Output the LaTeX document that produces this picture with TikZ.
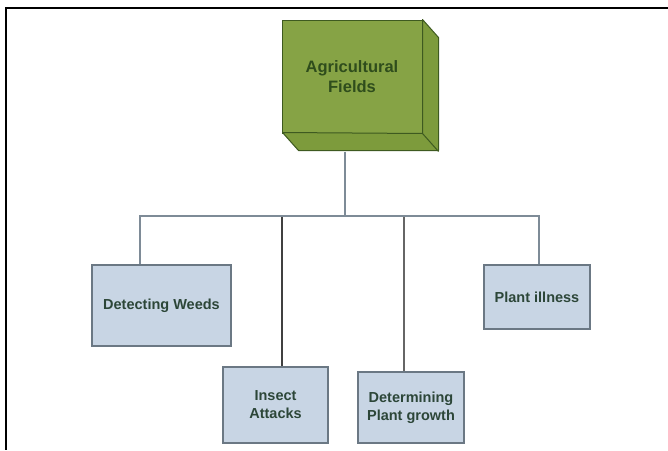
\documentclass[tikz,border=0pt]{standalone}
\usepackage{fontspec}
\setmainfont{Liberation Sans}
\usetikzlibrary{calc}
\definecolor{fieldgreen}{HTML}{86A345}
\definecolor{fieldside}{HTML}{7D9B3C}
\definecolor{fieldline}{HTML}{3E5A20}
\definecolor{titlegreen}{HTML}{2F4D1C}
\definecolor{leafblue}{HTML}{C8D5E4}
\definecolor{leafline}{HTML}{6B7884}
\definecolor{leaftext}{HTML}{2C4638}
\definecolor{wiregray}{HTML}{7E8B97}

\begin{document}
\begin{tikzpicture}[x=1pt,y=-1pt]
	\tikzstyle{leaf}=[draw=leafline, fill=leafblue, line width=1.2pt, inner sep=0pt, align=center, text=leaftext, font=\fontsize{14.5}{18}\selectfont\bfseries]
	\tikzstyle{wire}=[draw=wiregray, line width=1.3pt]
	\newcommand\Ybus{216}
	\newcommand\Depth{16}

	\useasboundingbox (0,0) rectangle (668,450);

	% Frame
	\draw [line width=2pt] (668,8) -| (6,450);

	% Root
	\node [draw=fieldline, fill=fieldgreen, line width=1pt, minimum width=140, minimum height=113, inner sep=0pt, align=center, text=titlegreen, font=\fontsize{16.5}{20}\selectfont\bfseries] at (352,76.5) (fields) {Agricultural\\Fields};
	\filldraw [draw=fieldline, fill=fieldside, line width=1pt, line join=round] (fields.north east) -- ++(\Depth,18) -- ++(0,113) -- ++(-140,0) -- ++(-\Depth,-18) -- (fields.south east) -- cycle;
	\draw [fieldline, line width=1pt] (fields.south east) -- ++(\Depth,18);

	% Leaves
	\node [leaf, minimum width=139, minimum height=81] at (161.5,305.5) (weeds) {Detecting Weeds};
	\node [leaf, minimum width=105, minimum height=76] at (275.5,405) (insect) {Insect\\Attacks};
	\node [leaf, minimum width=106, minimum height=71] at (411,407.5) (growth) {Determining\\Plant growth};
	\node [leaf, minimum width=106, minimum height=64] at (537,297) (illness) {Plant illness};

	% Wires
	\coordinate (bus) at (345,\Ybus);
	\path [wire, draw=black!75] (bus) -| ([xshift=6.5pt]insect.north);
	\path [wire, draw=black!60] (bus) -| ([xshift=-7pt]growth.north);
	\path [wire] (fields.south -| bus) ++(0,18) -- (bus);
	\path [wire] (bus) -| ([xshift=-21.5pt]weeds.north);
	\path [wire] (bus) -| ([xshift=2pt]illness.north);
\end{tikzpicture}
\end{document}
